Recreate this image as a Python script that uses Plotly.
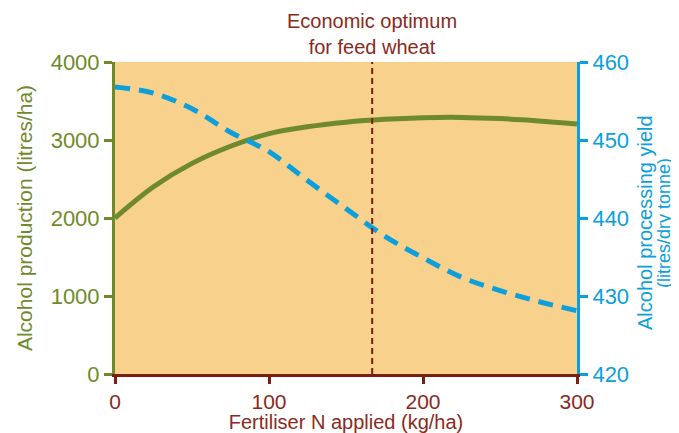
import plotly.graph_objects as go

n_applied = [0, 25, 50, 75, 100, 125, 150, 175, 200, 225, 250, 275, 300]
alcohol_production = [2000, 2400, 2700, 2920, 3082, 3170, 3228, 3265, 3286, 3290, 3275, 3245, 3206]
processing_yield = [456.8, 456.0, 454.0, 451.0, 448.5, 444.8, 441.2, 437.7, 434.9, 432.4, 430.7, 429.3, 428.1]
optimum_n = 167

GREEN = "#6F8A2E"
BLUE = "#0BA0DC"
BG = "#F8D18C"
RED = "#7A1E10"
TXT_RED = "#8A2A1C"
FONT = "Liberation Sans"

fig = go.Figure()
fig.add_trace(go.Scatter(x=n_applied, y=alcohol_production, mode="lines",
                         line=dict(color=GREEN, width=5, shape="spline"), yaxis="y"))
fig.add_trace(go.Scatter(x=n_applied, y=processing_yield, mode="lines",
                         line=dict(color=BLUE, width=5, dash="15px,9px", shape="spline"), yaxis="y2"))

fig.add_shape(type="line", x0=optimum_n, x1=optimum_n, y0=0, y1=1, xref="x", yref="paper",
              line=dict(color=RED, width=2, dash="6px,4px"))
fig.add_annotation(x=optimum_n, y=1, xref="x", yref="paper", yanchor="bottom", yshift=2,
                   text="Economic optimum<br>for feed wheat", showarrow=False,
                   font=dict(family=FONT, size=20, color=TXT_RED), align="center")

# right axis title, two lines placed separately for tighter line spacing
right_title = ["Alcohol processing yield", "(litres/dry tonne)"]
for i, line in enumerate(right_title):
    fig.add_annotation(x=1, y=0.484, xref="paper", yref="paper", xanchor="center", yanchor="middle",
                       xshift=68 + 19 * i, text=line, textangle=-90, showarrow=False,
                       font=dict(family=FONT, size=20 if i == 0 else 18, color=BLUE))

# page body has an 8px margin: size figure so the plot area lands where the reference has it
fig.update_layout(
    width=671, height=425,
    margin=dict(l=107, r=102, t=54, b=59, autoexpand=False),
    paper_bgcolor="white", plot_bgcolor=BG,
    showlegend=False,
    font=dict(family=FONT),
    xaxis=dict(range=[0, 300], dtick=100, showgrid=False, zeroline=False, automargin=False,
               showline=True, linecolor=RED, linewidth=3,
               ticks="outside", ticklen=7, tickwidth=3, tickcolor=RED,
               tickfont=dict(size=21, color=TXT_RED),
               title=dict(text="Fertiliser N applied (kg/ha)", font=dict(size=20, color=TXT_RED), standoff=2)),
    yaxis=dict(range=[0, 4000], dtick=1000, showgrid=False, zeroline=False, automargin=False,
               showline=True, linecolor=GREEN, linewidth=3,
               ticks="outside", ticklen=8, tickwidth=3, tickcolor=GREEN,
               tickfont=dict(size=22, color=GREEN),
               title=dict(text="Alcohol production (litres/ha)", font=dict(size=21, color=GREEN), standoff=13)),
    yaxis2=dict(range=[420, 460], dtick=10, overlaying="y", side="right", showgrid=False, zeroline=False,
                automargin=False,
                showline=True, linecolor=BLUE, linewidth=3,
                ticks="outside", ticklen=8, tickwidth=3, tickcolor=BLUE,
                tickfont=dict(size=22, color=BLUE)),
)

fig.write_html("out.html")
